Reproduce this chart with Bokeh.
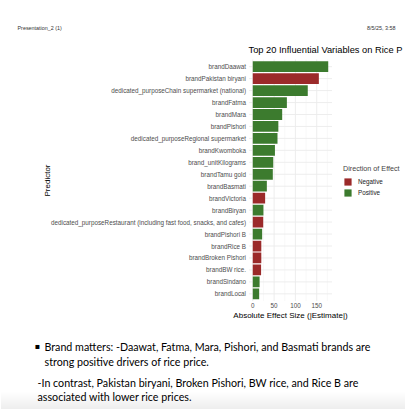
from math import pi
from bokeh.plotting import figure
from bokeh.models import (ColumnDataSource, Range1d, FixedTicker, LinearAxis,
                          Label, Legend, LegendItem, BoxAnnotation)
from bokeh.embed import file_html
from bokeh.resources import INLINE

predictors = [
    "brandDaawat", "brandPakistan biryani",
    "dedicated_purposeChain supermarket (national)", "brandFatma", "brandMara",
    "brandPishori", "dedicated_purposeRegional supermarket", "brandKwomboka",
    "brand_unitKilograms", "brandTamu gold", "brandBasmati", "brandVictoria",
    "brandBiryan",
    "dedicated_purposeRestaurant (including fast food, snacks, and cafes)",
    "brandPishori B", "brandRice B", "brandBroken Pishori", "brandBW rice.",
    "brandSindano", "brandLocal",
]
effect = [177, 155, 129, 80, 69, 60, 58, 52, 48, 47, 33, 29, 25, 24.5, 22,
          20, 20, 19.5, 16, 15]
direction = ["Positive", "Negative", "Positive", "Positive", "Positive",
             "Positive", "Positive", "Positive", "Positive", "Positive",
             "Positive", "Negative", "Positive", "Negative", "Positive",
             "Negative", "Negative", "Negative", "Positive", "Positive"]
x_ticks = [0, 50, 100, 150]
x_minor = [25, 75, 125, 175]

title_text = "Top 20 Influential Variables on Rice P"
x_title = "Absolute Effect Size (|Estimate|)"
y_title = "Predictor"
legend_title = "Direction of Effect"
header_left = "Presentation_2 (1)"
header_right = "8/5/25, 3:58"
bullet_lines = [
    "Brand matters: -Daawat, Fatma, Mara, Pishori, and Basmati brands are",
    "strong positive drivers of rice price.",
]
contrast_lines = [
    "-In contrast, Pakistan biryani, Broken Pishori, BW rice, and Rice B are",
    "associated with lower rice prices.",
]

palette = {"Negative": "#9B2A2A", "Positive": "#3C7B2E"}

# ---------------- page geometry (pixels) ----------------
W, H = 405, 409
PANEL_L, PANEL_R = 248.5, 331.5
PANEL_T, PANEL_B = 59.0, 300.5
FONT = "Liberation Sans"
BODY = "Lato"

n = len(predictors)
ypos = [n - i for i in range(n)]          # top row first
colors = [palette[d] for d in direction]
src = ColumnDataSource(dict(y=ypos, predictor=predictors, effect=effect,
                            direction=direction, color=colors))

xmax = max(effect)
x_lo, x_hi = -0.05 * xmax, 1.05 * xmax     # ggplot-like expansion
y_lo, y_hi = 0.4, n + 0.6
ppx = (PANEL_R - PANEL_L) / (x_hi - x_lo)
ppy = (PANEL_B - PANEL_T) / (y_hi - y_lo)
x_range = Range1d(x_lo - PANEL_L / ppx, x_hi + (W - PANEL_R) / ppx)
y_range = Range1d(y_lo - (H - PANEL_B) / ppy, y_hi + PANEL_T / ppy)


def dx(px):
    return x_range.start + px / ppx


def dy(py):
    return y_range.end - py / ppy


p = figure(width=W, height=H, x_range=x_range, y_range=y_range,
           output_backend="svg", toolbar_location=None,
           x_axis_location=None, y_axis_location=None,
           min_border=0, min_border_left=0, min_border_right=0,
           min_border_top=0, min_border_bottom=0)
p.outline_line_color = None
p.grid.visible = False
p.background_fill_color = "white"
p.border_fill_color = "white"

# grid lines (panel only)
p.segment(x0=x_minor, x1=x_minor, y0=[y_lo] * len(x_minor),
          y1=[y_hi] * len(x_minor), line_color="#F3F3F3", line_width=0.6)
p.segment(x0=x_ticks, x1=x_ticks, y0=[y_lo] * len(x_ticks),
          y1=[y_hi] * len(x_ticks), line_color="#EBEBEB", line_width=0.9)
p.segment(x0=[x_lo] * n, x1=[x_hi] * n, y0=ypos, y1=ypos,
          line_color="#EBEBEB", line_width=0.9)

r = p.hbar(y="y", right="effect", left=0, height=0.9,
           fill_color="color", line_color=None, source=src)

# axes pinned to the panel edges
xaxis = LinearAxis(fixed_location=y_lo,
                   ticker=FixedTicker(ticks=x_ticks, minor_ticks=[]))
yaxis = LinearAxis(fixed_location=x_lo,
                   ticker=FixedTicker(ticks=ypos, minor_ticks=[]),
                   major_label_overrides={k: v for k, v in zip(ypos, predictors)})
for ax in (xaxis, yaxis):
    ax.axis_line_color = None
    ax.major_tick_line_color = None
    ax.minor_tick_line_color = None
    ax.major_tick_out = 0
    ax.major_tick_in = 0
    ax.major_label_text_font = FONT
    ax.major_label_text_font_size = "6.3px"
    ax.major_label_text_color = "#4D4D4D"
xaxis.major_label_standoff = 2
yaxis.major_label_standoff = 3
p.add_layout(xaxis, "below")
p.add_layout(yaxis, "left")

# legend
neg_idx = direction.index("Negative")
pos_idx = direction.index("Positive")
legend = Legend(items=[LegendItem(label="Negative", renderers=[r], index=neg_idx),
                       LegendItem(label="Positive", renderers=[r], index=pos_idx)],
                title=legend_title, location=(343, H - 196.5))
legend.title_text_font = FONT
legend.title_text_font_size = "7.2px"
legend.title_text_font_style = "normal"
legend.title_standoff = 4
legend.label_text_font = FONT
legend.label_text_font_size = "6.3px"
legend.label_text_color = "#1A1A1A"
legend.glyph_width = 9
legend.glyph_height = 9
legend.label_height = 9
legend.label_standoff = 6
legend.spacing = 2
legend.padding = 0
legend.margin = 0
legend.border_line_color = None
legend.background_fill_alpha = 0
p.add_layout(legend, "center")


def put(text, px, py, size, font=FONT, color="#000000", align="left", angle=0):
    p.add_layout(Label(x=dx(px), y=dy(py), text=text, text_font=font,
                       text_font_size=size, text_color=color,
                       text_align=align, text_baseline="middle", angle=angle))


put(header_left, 17, 27, "5.4px", color="#333333")
put(header_right, 395, 27, "5.4px", color="#333333", align="right")
put(title_text, 248, 49, "9.3px")
put(y_title, 46.5, 180, "8px", align="center", angle=pi / 2)
put(x_title, 290, 315, "8px", align="center")

# faint page shadow at the bottom
for k in range(9):
    p.add_layout(BoxAnnotation(top=dy(392 + 2 * k), bottom=dy(H),
                               fill_color="#000000", fill_alpha=0.009,
                               line_color=None))

put("\u25aa", 34, 346, "8px", font="DejaVu Sans")
put(bullet_lines[0], 44, 346, "10.7px", font=BODY)
put(bullet_lines[1], 44, 361, "10.7px", font=BODY)
put(contrast_lines[0], 37, 381.5, "10.7px", font=BODY)
put(contrast_lines[1], 37, 395.5, "10.7px", font=BODY)

open("out.html", "w").write(file_html(p, INLINE))
